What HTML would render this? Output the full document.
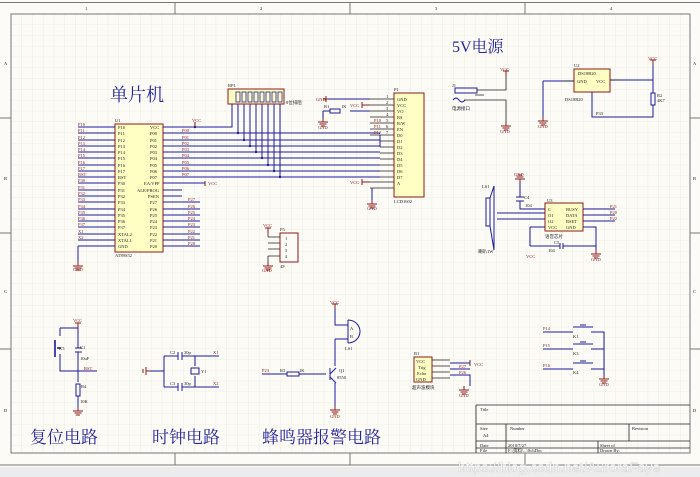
<!DOCTYPE html>
<html><head><meta charset="utf-8"><style>
html,body{margin:0;padding:0;background:#f0f0f0}
svg{display:block}
.t{font-family:"Liberation Serif",serif;font-size:4.5px;fill:#222}
.r{font-family:"Liberation Serif",serif;font-size:4.5px;fill:#8b1a1a}
.b{stroke:#1c1c9a;stroke-width:1;fill:none}
.k{stroke:#222;stroke-width:.8;fill:none}
.g{stroke:#8b1a1a;stroke-width:1;fill:none}
.box{fill:#ffffc4;stroke:#8b1a1a;stroke-width:1}
.h{font-family:"Liberation Serif","Noto Serif CJK SC",serif;fill:#26269a}
</style></head><body>
<svg width="700" height="477" viewBox="0 0 700 477" xmlns="http://www.w3.org/2000/svg">
<defs>
<pattern id="gr" width="10.8" height="10.8" patternUnits="userSpaceOnUse" x="11" y="14">
<path d="M10.8 0V10.8H0" fill="none" stroke="#e3e1da" stroke-width=".6"/></pattern>
<g id="gnd"><path d="M0 0V4M-5 4H5M-3.5 6H3.5M-2 8H2" class="g"/></g>
<g id="vcc"><path d="M-3 0H3M0 0V5" class="g"/></g>
</defs>
<rect width="700" height="467" fill="#fdfbf5"/>
<rect x="0" y="467" width="700" height="10" fill="#ececec"/>
<rect x="11" y="14" width="679" height="439" fill="url(#gr)"/>
<g stroke="#777" fill="none" stroke-width="1">
<path d="M0 2.5H700M0 465H700"/>
<rect x="11" y="14" width="679" height="439"/>
<path d="M175 2V14M350 2V14M525 2V14M175 453V465M350 453V465M525 453V465"/>
<path d="M0 118H11M0 233H11M0 349H11M690 118H700M690 233H700M690 349H700"/>
</g>
<g class="t" font-size="4"><text x="85" y="10">1</text><text x="260" y="10">2</text><text x="435" y="10">3</text><text x="610" y="10">4</text>
<text x="4" y="65">A</text><text x="4" y="180">B</text><text x="4" y="293">C</text><text x="4" y="412">D</text>
<text x="693" y="65">A</text><text x="693" y="180">B</text><text x="693" y="293">C</text><text x="693" y="412">D</text></g>

<text class="h" x="110" y="101" font-size="18">单片机</text>
<text class="h" x="452" y="52" font-size="16">5V电源</text>
<text class="h" x="30" y="443" font-size="17">复位电路</text>
<text class="h" x="152" y="443" font-size="17">时钟电路</text>
<text class="h" x="262" y="443" font-size="17">蜂鸣器报警电路</text>

<!-- U1 -->
<rect class="box" x="115" y="124" width="48" height="128"/>
<text class="t" x="115" y="122">U1</text><text class="t" x="115" y="257">AT89S52</text>
<g class="b">
<path d="M78 127H115M78 133H115M78 140H115M78 146H115M78 152H115M78 158H115M78 165H115M78 171H115M78 177H115M78 183H115M78 190H115M78 196H115M78 202H115M78 209H115M78 215H115M78 221H115M78 227H115M78 234H115M78 240H115M78 246H115M78 246V262"/>
<path d="M163 127H232V104M163 133H380M163 140H380M163 146H380M163 152H380M163 158H380M163 165H380M163 171H380M163 177H380M163 183H205M163 190H182M163 196H182M163 202H200M163 209H200M163 215H200M163 221H200M163 227H200M163 234H200M163 240H200M163 246H200"/>
<path d="M238 104V133M244 104V140M250 104V146M256 104V152M262 104V158M268 104V165M274 104V171M280 104V177"/>
</g>
<g fill="#1c1c9a"><circle cx="195" cy="127" r="1.2"/><circle cx="238" cy="133" r="1.2"/><circle cx="244" cy="140" r="1.2"/><circle cx="250" cy="146" r="1.2"/><circle cx="256" cy="152" r="1.2"/><circle cx="262" cy="158" r="1.2"/><circle cx="268" cy="165" r="1.2"/><circle cx="274" cy="171" r="1.2"/><circle cx="280" cy="177" r="1.2"/></g>
<use href="#gnd" x="78" y="262"/>
<text class="r" x="73" y="271">GND</text>
<g class="r"><text x="78" y="126">P10</text><text x="78" y="132">P11</text><text x="78" y="139">P12</text><text x="78" y="145">P13</text><text x="78" y="151">P14</text><text x="78" y="157">P15</text><text x="78" y="164">P16</text><text x="78" y="170">P17</text><text x="78" y="176">RST</text><text x="78" y="182">P30</text><text x="78" y="189">P31</text><text x="78" y="195">P32</text><text x="78" y="201">P33</text><text x="78" y="208">P34</text><text x="78" y="214">P35</text><text x="78" y="220">P36</text><text x="78" y="226">P37</text><text x="78" y="233">X1</text><text x="78" y="239">X2</text>
<text x="182" y="132">P00</text><text x="182" y="139">P01</text><text x="182" y="145">P02</text><text x="182" y="151">P03</text><text x="182" y="157">P04</text><text x="182" y="164">P05</text><text x="182" y="170">P06</text><text x="182" y="176">P07</text>
<text x="188" y="201">P27</text><text x="188" y="208">P26</text><text x="188" y="214">P25</text><text x="188" y="220">P24</text><text x="188" y="226">P23</text><text x="188" y="233">P22</text><text x="188" y="239">P21</text><text x="188" y="245">P20</text>
<text x="192" y="122">VCC</text><text x="208" y="185">VCC</text></g>
<path class="g" d="M205 181V186M195 122V127"/>
<g class="t"><text x="118" y="129">P10</text><text x="118" y="135">P11</text><text x="118" y="142">P12</text><text x="118" y="148">P13</text><text x="118" y="154">P14</text><text x="118" y="160">P15</text><text x="118" y="167">P16</text><text x="118" y="173">P17</text><text x="118" y="179">RST</text><text x="118" y="185">P30</text><text x="118" y="192">P31</text><text x="118" y="198">P32</text><text x="118" y="204">P33</text><text x="118" y="211">P34</text><text x="118" y="217">P35</text><text x="118" y="223">P36</text><text x="118" y="229">P37</text><text x="118" y="236">XTAL2</text><text x="118" y="242">XTAL1</text><text x="118" y="248">GND</text>
<text x="150" y="129">VCC</text><text x="150" y="135">P00</text><text x="150" y="142">P01</text><text x="150" y="148">P02</text><text x="150" y="154">P03</text><text x="150" y="160">P04</text><text x="150" y="167">P05</text><text x="150" y="173">P06</text><text x="150" y="179">P07</text><text x="144" y="185">EA/VPP</text><text x="137" y="192">ALE/PROG</text><text x="148" y="198">PSEN</text><text x="150" y="204">P27</text><text x="150" y="211">P26</text><text x="150" y="217">P25</text><text x="150" y="223">P24</text><text x="150" y="229">P23</text><text x="150" y="236">P22</text><text x="150" y="242">P21</text><text x="150" y="248">P20</text></g>

<!-- RP1 -->
<rect x="228" y="89" width="56" height="15" fill="#ffffc4" stroke="#8b1a1a"/>
<g fill="none" stroke="#1c1c9a" stroke-width=".8"><rect x="236" y="92" width="4" height="10"/><rect x="242" y="92" width="4" height="10"/><rect x="248" y="92" width="4" height="10"/><rect x="254" y="92" width="4" height="10"/><rect x="260" y="92" width="4" height="10"/><rect x="266" y="92" width="4" height="10"/><rect x="272" y="92" width="4" height="10"/><rect x="278" y="92" width="4" height="10"/></g>
<text class="t" x="228" y="87">RP1</text><text class="t" x="286" y="104">8位排阻</text>

<!-- LCD -->
<rect class="box" x="394" y="93" width="30" height="104"/>
<text class="t" x="394" y="91">P1</text><text class="t" x="394" y="203">LCD1602</text>
<g class="k"><path d="M370 99H394M370 105H394M370 111H394M370 117H394M370 123H394M370 129H394M370 135H394M380 141H394M380 147H394M380 153H394M380 159H394M380 165H394M380 171H394M380 177H394M370 182H394M370 188H394"/></g>
<g class="b"><path d="M328 99H370M350 111H370M323 111H330M323 111V118M372 188V200M380 135V141M380 140V147"/></g>
<rect x="330" y="109" width="10" height="4" fill="none" stroke="#1c1c9a"/>
<use href="#gnd" x="323" y="118"/><text class="r" x="318" y="129">GND</text><text class="t" x="324" y="108">R1</text><text class="t" x="341" y="108">1K</text>
<path class="g" d="M326 96V102M323 99H328"/><text class="r" x="316" y="101">GND</text>
<path class="g" d="M362 102V108M362 105H370M362 179V185M362 182H370"/><text class="r" x="350" y="107">VCC</text><text class="r" x="350" y="184">VCC</text>
<use href="#gnd" x="372" y="200"/><text class="r" x="367" y="210">GND</text>
<g class="r"><text x="374" y="122">P10</text><text x="374" y="128">P11</text><text x="374" y="134">P12</text></g>
<g class="t"><text x="397" y="101">GND</text><text x="397" y="107">VCC</text><text x="397" y="113">VO</text><text x="397" y="119">RS</text><text x="397" y="125">R/W</text><text x="397" y="131">EN</text><text x="397" y="137">D0</text><text x="397" y="143">D1</text><text x="397" y="149">D2</text><text x="397" y="155">D3</text><text x="397" y="161">D4</text><text x="397" y="167">D5</text><text x="397" y="173">D6</text><text x="397" y="179">D7</text><text x="397" y="185">A</text>
<text x="386" y="98">1</text><text x="386" y="104">2</text><text x="386" y="110">3</text><text x="386" y="116">4</text><text x="386" y="122">5</text><text x="386" y="128">6</text><text x="386" y="134">7</text></g>

<!-- P5 -->
<rect x="280" y="233" width="18" height="29" fill="#fdfbf5" stroke="#8b1a1a"/>
<g class="k"><path d="M268 237H280M268 243H280M268 249H280M268 256H280M268 228V237M268 256V262"/></g>
<use href="#vcc" x="268" y="228"/><text class="r" x="263" y="227">VCC</text><use href="#gnd" x="268" y="262"/><text class="r" x="262" y="272">GND</text>
<text class="t" x="280" y="231">P5</text><text class="t" x="280" y="268">4P</text>
<g class="t"><text x="285" y="240">1</text><text x="285" y="246">2</text><text x="285" y="252">3</text><text x="285" y="258">4</text></g>

<!-- J1 power -->
<rect x="455" y="88" width="22" height="5" fill="none" stroke="#1c1c9a"/>
<path class="k" d="M477 90H506V76M475 95H484M464 100H506V122"/>
<path class="b" d="M453 100q3 -4 6 0q3 4 6 0"/>
<use href="#vcc" x="506" y="71"/><text class="r" x="500" y="71">VCC</text>
<use href="#gnd" x="506" y="122"/><text class="r" x="500" y="133">GND</text>
<text class="t" x="452" y="87">J1</text><text class="t" x="452" y="110">电源接口</text>

<!-- U2 -->
<rect class="box" x="574" y="69" width="36" height="23"/>
<text class="t" x="574" y="67">U2</text><text class="t" x="578" y="75">DS18B20</text><text class="t" x="577" y="83">GND</text><text class="t" x="596" y="83">VCC</text>
<text class="t" x="565" y="101">DS18B20</text><text class="t" x="596" y="115">P33</text>
<path class="b" d="M543 81H574M543 81V117M610 80H653V93M653 105V117H592V92"/>
<path class="k" d="M564 81H574M610 80H620"/>
<rect x="651" y="93" width="4" height="12" fill="none" stroke="#1c1c9a"/>
<use href="#vcc" x="653" y="60"/><path class="b" d="M653 65V80"/><text class="r" x="648" y="60">VCC</text>
<use href="#gnd" x="543" y="117"/><text class="r" x="538" y="128">GND</text><text class="t" x="657" y="97">R2</text><text class="t" x="657" y="102">4K7</text>

<!-- U3 voice -->
<rect class="box" x="545" y="203" width="38" height="28"/>
<text class="t" x="547" y="202">U3</text><text class="t" x="545" y="238">语音芯片</text>
<g class="t"><text x="548" y="211">C</text><text x="548" y="217">O1</text><text x="548" y="223">O2</text><text x="548" y="229">VCC</text><text x="566" y="211">BUSY</text><text x="566" y="217">DATA</text><text x="566" y="223">RSET</text><text x="566" y="229">GND</text></g>
<path class="b" d="M520 183V197M520 201V209H545M497 213H545M497 219H545M530 227H545M530 227V246M583 209H615M583 215H615M583 221H615M583 227H596V250M530 246H560M563 246H596"/>
<path class="b" d="M516 197H524M516 201H524M560 243V249M563 243V249"/>
<use href="#gnd" x="520" y="183" transform="rotate(180 520 183)"/>
<text class="r" x="514" y="176">GND</text><text class="t" x="524" y="199">C4</text><text class="t" x="525" y="207">104</text>
<text class="t" x="554" y="244">C5</text><text class="t" x="548" y="252">104</text>
<use href="#gnd" x="596" y="250"/><text class="r" x="591" y="261">GND</text>
<text class="r" x="526" y="258">VCC</text>
<g class="r"><text x="610" y="208">P21</text><text x="610" y="214">P20</text><text x="610" y="220">P22</text></g>
<path class="b" d="M486 198H490V226H486ZM490 198L494 186V250L490 226"/>
<text class="t" x="482" y="188">LS1</text><text class="t" x="478" y="253">喇叭1W</text>

<!-- reset -->
<use href="#vcc" x="78" y="323"/><text class="r" x="73" y="322">VCC</text>
<path class="b" d="M78 328V348M78 352V382M78 396V407M60 328H78M60 328V336M60 354V371H97M75 348H82M75 352H82"/>
<rect x="76" y="384" width="4" height="12" fill="none" stroke="#1c1c9a"/>
<path d="M55 340V357M57 348H61" stroke="#1c1c9a" stroke-width="1.6"/>
<use href="#gnd" x="78" y="407"/>
<text class="t" x="59" y="350">K5</text><text class="t" x="80" y="349">C1</text><text class="t" x="80" y="360">10uF</text><text class="r" x="84" y="370">RST</text><text class="t" x="81" y="388">R4</text><text class="t" x="80" y="403">10K</text>

<!-- clock -->
<path class="g" d="M146 367V375M143 369V373M146 371H150"/>
<path class="b" d="M150 371H164M164 356V387M164 356H178M182 356H219M164 387H178M182 387H219M195 356V366M195 376V387"/>
<path class="b" d="M178 352V360M182 352V360M178 383V391M182 383V391"/>
<rect x="191" y="368" width="8" height="6" fill="none" stroke="#1c1c9a"/>
<text class="t" x="170" y="354">C2</text><text class="t" x="184" y="354">30p</text><text class="t" x="170" y="385">C3</text><text class="t" x="184" y="385">30p</text><text class="t" x="201" y="373">Y1</text>
<text class="r" x="213" y="354">X1</text><text class="r" x="213" y="385">X2</text>

<!-- buzzer -->
<use href="#vcc" x="335" y="304"/><text class="r" x="330" y="304">VCC</text>
<path class="b" d="M335 309V325H348M335 339H348M335 339V366M262 374H287M299 374H326M335 383V406M330 368V380"/>
<path class="b" d="M330 374L336 368M330 377L336 383"/>
<rect x="287" y="372" width="12" height="4" fill="none" stroke="#1c1c9a"/>
<path class="b" d="M348 320V343M348 320A12 11.5 0 0 1 348 343"/>
<use href="#gnd" x="335" y="406"/><text class="r" x="330" y="418">GND</text>
<text class="t" x="350" y="330">A</text><text class="t" x="350" y="338">B</text><text class="t" x="345" y="350">LS1</text>
<text class="r" x="262" y="372">P23</text><text class="t" x="280" y="372">R3</text><text class="t" x="299" y="372">1K</text><text class="t" x="339" y="372">Q1</text><text class="t" x="337" y="379">8550</text>

<!-- B1 -->
<rect class="box" x="414" y="357" width="18" height="25"/>
<g class="t"><text x="416" y="363">VCC</text><text x="418" y="369">Trig</text><text x="417" y="375">Echo</text><text x="416" y="381">GND</text><text x="414" y="355">B1</text><text x="412" y="389">超声波模块</text></g>
<path class="k" d="M432 360H450M432 366H450M432 372H450M432 378H450"/>
<path class="g" d="M470 360V366"/><path class="b" d="M450 363H470M450 369H470M450 375H470V386"/>
<use href="#gnd" x="464" y="386"/><text class="r" x="474" y="366">VCC</text><text class="r" x="459" y="368">P27</text><text class="r" x="459" y="374">P26</text><text class="r" x="459" y="397">GND</text>

<!-- keys -->
<path class="b" d="M543 332H573M543 349H573M543 369H573M591 332H604V375M591 349H604M591 369H604"/>
<path class="b" d="M573 327H593M580 325H586M573 344H593M580 342H586M573 363H593M580 361H586" stroke-width="1.4"/>
<use href="#gnd" x="604" y="375"/><text class="r" x="599" y="386">GND</text>
<g class="r"><text x="543" y="330">P14</text><text x="543" y="347">P15</text><text x="543" y="367">P16</text></g>
<g class="t"><text x="573" y="338">K1</text><text x="573" y="355">K3</text><text x="573" y="374">K4</text></g>

<!-- title block -->
<g stroke="#222" fill="none" stroke-width=".8">
<path d="M476 405H690M476 405V453M476 424H690M476 441H690M476 448H690M506 424V441M629 424V441M598 441V453M506 441V453"/>
</g>
<g class="t"><text x="480" y="411">Title</text><text x="480" y="430">Size</text><text x="483" y="437">A4</text><text x="510" y="430">Number</text><text x="632" y="430">Revision</text><text x="480" y="447">Date</text><text x="508" y="447">2018/7/27</text><text x="600" y="447">Sheet of</text><text x="480" y="452">File</text><text x="508" y="452">F:\资料\...\SchDoc</text><text x="600" y="452">Drawn By:</text></g>
<text x="458" y="472" font-family="Liberation Sans,sans-serif" font-size="14" fill="#fff" stroke="#bbb" stroke-width=".3">https://blog.csdn.net/AuroraFaye</text>
</svg>
</body></html>
